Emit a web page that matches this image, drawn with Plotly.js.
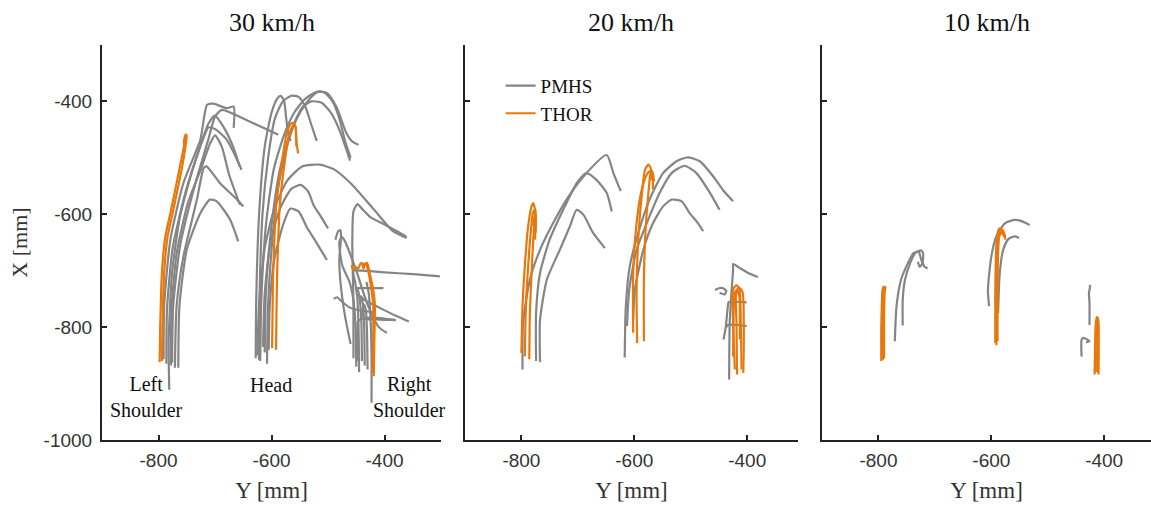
<!DOCTYPE html>
<html><head><meta charset="utf-8">
<script src="https://cdn.plot.ly/plotly-3.0.1.min.js"></script>
<style>html,body{margin:0;padding:0;background:#fff}#chart{width:1151px;height:506px}</style>
</head><body><div id="chart"></div>
<script>
// Panel titles and tick labels
const panelTitles = ["30 km/h", "20 km/h", "10 km/h"];
const xTickVals = [-800, -600, -400];
const xTickText = ["-800", "-600", "-400"];
const yTickVals = [-1000, -800, -600, -400];
const yTickText = ["-1000", "-800", "-600", "-400"];
const regionLabels = ["Left<br>Shoulder", "Head", "Right<br>Shoulder"];
const regionLabelY = [-822, -601, -355];
const regionLabelX = [-923, -902, -923];

// ---- 30 km/h : PMHS (Y lateral, X fore-aft) ----
const pmhs30Y = [
 [-781,-782,-776,-762,-738,-717,-712,-700,-679,-653],
 [-791,-790,-779,-756,-726,-714,-703,-679,-667,-667],
 [-776,-774,-762,-738,-712,-700,-688,-638,-588],
 [-771,-768,-756,-732,-720,-715,-691,-661,-650],
 [-765,-763,-750,-726,-709,-697,-673,-659],
 [-786,-785,-775,-752,-728,-712,-700,-685,-668,-656],
 [-778,-777,-768,-748,-725,-709,-700,-688,-675,-656],
 [-628,-627,-622,-612,-600,-590,-584,-578,-574,-570,-566],
 [-620,-618,-610,-596,-578,-560,-540,-520,-502,-485,-468,-458,-446],
 [-612,-610,-600,-585,-565,-545,-530,-512,-495,-478,-466,-461],
 [-625,-622,-612,-595,-572,-545,-515,-490,-460,-420,-385,-361],
 [-615,-612,-602,-585,-565,-548,-535,-525,-512,-500],
 [-605,-603,-595,-580,-567,-552,-538,-520,-502],
 [-622,-621,-616,-606,-594,-580,-565,-552,-540,-530,-520],
 [-608,-606,-598,-586,-570,-555,-540,-525,-515,-505,-492,-480,-470,-460],
 [-455,-455,-457,-455,-448,-440,-425,-400,-378,-361],
 [-423,-423,-425,-428,-432],
 [-445,-446,-448,-452,-455,-440,-400,-350,-302],
 [-440,-441,-444,-447,-450,-440,-420,-402],
 [-435,-436,-438,-442,-437,-410,-380,-357],
 [-430,-431,-433,-436,-440,-420,-400,-381],
 [-450,-451,-453,-457,-462,-475,-480,-476,-470,-450,-430,-410,-396],
 [-490,-484,-475,-462,-445,-430,-418],
 [-448,-448,-447,-440,-420,-400,-380],
 [-487,-482,-478,-477,-480,-478,-470,-460]
];
const pmhs30X = [
 [-911,-822,-704,-604,-515,-456,-446,-449,-468,-521],
 [-857,-763,-645,-545,-468,-406,-404,-412,-409,-447],
 [-863,-763,-657,-557,-468,-427,-415,-436,-459],
 [-872,-763,-675,-574,-518,-515,-545,-574,-586],
 [-872,-763,-663,-598,-574,-577,-610,-648],
 [-865,-770,-660,-560,-485,-440,-425,-445,-480,-516],
 [-868,-770,-670,-580,-520,-475,-460,-480,-530,-583],
 [-855,-750,-600,-480,-420,-395,-390,-398,-430,-460,-470],
 [-860,-750,-620,-520,-460,-420,-395,-383,-385,-410,-455,-470,-477],
 [-845,-740,-620,-520,-450,-410,-400,-402,-420,-455,-490,-505],
 [-850,-760,-660,-590,-540,-515,-512,-520,-545,-590,-630,-642],
 [-835,-740,-650,-590,-555,-548,-560,-585,-605,-625],
 [-840,-760,-680,-620,-590,-595,-622,-651,-681],
 [-858,-740,-600,-500,-430,-400,-390,-392,-410,-440,-470],
 [-865,-760,-640,-540,-470,-430,-405,-388,-382,-385,-400,-430,-470,-500],
 [-855,-760,-650,-595,-582,-590,-605,-618,-630,-640],
 [-934,-850,-780,-740,-720],
 [-880,-800,-750,-720,-700,-700,-703,-706,-710],
 [-860,-790,-750,-735,-731,-731,-731,-731],
 [-868,-800,-760,-745,-751,-765,-780,-790],
 [-875,-810,-770,-760,-785,-786,-787,-787],
 [-870,-810,-770,-740,-720,-690,-650,-640,-648,-700,-760,-800,-810],
 [-750,-747,-755,-765,-770,-772,-774],
 [-860,-800,-790,-785,-783,-785,-788],
 [-645,-630,-628,-640,-680,-720,-780,-830]
];
// ---- 30 km/h : THOR ----
const thor30Y = [
 [-798,-797,-794,-788,-779,-770,-762,-756,-753,-752,-755,-754,-750],
 [-794,-793,-790,-784,-775,-766,-758,-753,-750],
 [-599,-598,-597,-591,-582,-573,-566,-562,-558,-556,-553],
 [-592,-591,-590,-585,-577,-569,-563,-558,-556],
 [-419,-418,-417,-419,-425,-431,-435,-437,-440,-443,-447,-452,-456,-458],
 [-421,-420,-420,-423,-428,-433,-440]
];
const thor30X = [
 [-862,-800,-704,-640,-598,-555,-515,-485,-468,-458,-470,-480,-458],
 [-860,-800,-704,-640,-598,-555,-515,-485,-462],
 [-837,-760,-704,-574,-509,-456,-440,-438,-444,-470,-492],
 [-840,-760,-704,-580,-510,-460,-445,-443,-480],
 [-887,-820,-763,-740,-710,-686,-688,-697,-686,-688,-697,-693,-698,-690],
 [-880,-820,-760,-735,-705,-688,-690]
];

// ---- 20 km/h ----
const pmhs20Y = [
 [-798,-797,-785,-767,-744,-720,-690,-649,-637,-624],
 [-774,-774,-767,-750,-726,-702,-685,-667,-649,-640],
 [-767,-767,-755,-732,-714,-702,-690,-673,-652],
 [-617,-615,-608,-593,-573,-549,-525,-505,-484,-460,-443,-425],
 [-613,-609,-596,-578,-555,-534,-511,-490,-466,-449],
 [-602,-599,-584,-567,-549,-534,-516,-502,-487,-478],
 [-432,-431,-428,-425,-425,-415,-400,-381],
 [-457,-450,-443,-437,-440,-449],
 [-442,-438,-434,-433,-430,-420,-401],
 [-436,-434,-420,-401]
];
const pmhs20X = [
 [-875,-792,-716,-663,-616,-574,-533,-495,-527,-559],
 [-860,-775,-704,-645,-592,-545,-527,-539,-562,-595],
 [-862,-787,-716,-663,-621,-592,-601,-633,-660],
 [-854,-763,-692,-633,-574,-527,-506,-499,-506,-533,-557,-577],
 [-798,-734,-663,-616,-562,-527,-514,-527,-562,-592],
 [-787,-734,-663,-616,-586,-574,-577,-598,-616,-630],
 [-893,-793,-740,-698,-688,-694,-703,-711],
 [-734,-731,-731,-736,-742,-739],
 [-822,-800,-760,-756,-755,-755,-756],
 [-800,-796,-796,-798]
];
const thor20Y = [
 [-800,-798,-794,-788,-782,-779,-776,-779],
 [-794,-792,-788,-783,-779,-775,-776],
 [-786,-785,-782,-779,-776,-774,-775],
 [-595,-596,-593,-587,-581,-575,-571,-570],
 [-602,-602,-596,-587,-578,-573,-568,-567],
 [-583,-583,-580,-575,-571,-568,-565],
 [-422,-425,-426,-424,-419,-414,-412,-410],
 [-418,-419,-420,-417,-413,-408,-406,-407],
 [-425,-424,-422,-418,-414,-413]
];
const thor20X = [
 [-846,-763,-692,-621,-586,-580,-592,-621],
 [-852,-763,-692,-627,-595,-592,-645],
 [-857,-775,-704,-645,-610,-601,-633],
 [-828,-734,-645,-568,-521,-512,-518,-539],
 [-810,-704,-616,-557,-530,-524,-533,-556],
 [-825,-716,-627,-562,-527,-524,-542],
 [-875,-792,-745,-731,-726,-731,-763,-875],
 [-884,-792,-745,-732,-731,-739,-822,-881],
 [-852,-775,-739,-734,-745,-822]
];

// ---- 10 km/h ----
const pmhs10Y = [
 [-771,-768,-760,-748,-738,-729,-724,-718,-713],
 [-757,-757,-753,-744,-735,-725,-721,-722,-727,-730],
 [-604,-606,-600,-591,-576,-558,-544,-532],
 [-588,-585,-579,-570,-558,-551],
 [-426,-426,-427,-425,-426],
 [-440,-440,-437,-426,-432]
];
const pmhs10X = [
 [-825,-763,-716,-687,-669,-666,-681,-693,-696],
 [-797,-751,-716,-687,-669,-664,-669,-687,-693,-684],
 [-763,-734,-675,-639,-616,-610,-613,-619],
 [-775,-704,-663,-644,-639,-642],
 [-796,-757,-740,-728,-725],
 [-852,-822,-819,-825,-827]
];
const thor10Y = [
 [-795,-795,-794,-793,-791,-790],
 [-792,-792,-791,-790,-789],
 [-790,-790,-789,-788,-787],
 [-593,-593,-592,-590,-586,-580,-576],
 [-591,-591,-590,-588,-584,-578,-575],
 [-589,-589,-588,-586,-582,-577],
 [-417,-416,-415,-413,-411,-410,-410],
 [-415,-414,-413,-411,-410,-411]
];
const thor10X = [
 [-860,-800,-760,-735,-728,-733],
 [-858,-790,-750,-730,-735],
 [-855,-780,-740,-728,-732],
 [-828,-750,-680,-640,-625,-628,-640],
 [-832,-750,-680,-640,-628,-632,-645],
 [-825,-740,-670,-640,-632,-640],
 [-884,-830,-795,-782,-785,-810,-884],
 [-880,-820,-790,-784,-800,-880]
];

const GRAY = "#858585", ORANGE = "#E8780C";
const traces = [];
let pmhsLeg = false, thorLeg = false;
function addSet(Ys, Xs, axis, color, name) {
  Ys.forEach((ys, i) => {
    let show = false;
    if (axis === "x2" && name === "PMHS" && !pmhsLeg) { show = true; pmhsLeg = true; }
    if (axis === "x2" && name === "THOR" && !thorLeg) { show = true; thorLeg = true; }
    traces.push({
      type: "scatter", mode: "lines", x: ys, y: Xs[i],
      xaxis: axis, yaxis: axis.replace("x", "y"),
      line: {color: color, width: 2.2, shape: "spline", smoothing: 0.6},
      name: name, showlegend: show, legendgroup: name, hoverinfo: "skip"
    });
  });
}
addSet(pmhs30Y, pmhs30X, "x", GRAY, "PMHS");
addSet(thor30Y, thor30X, "x", ORANGE, "THOR");
addSet(pmhs20Y, pmhs20X, "x2", GRAY, "PMHS");
addSet(thor20Y, thor20X, "x2", ORANGE, "THOR");
addSet(pmhs10Y, pmhs10X, "x3", GRAY, "PMHS");
addSet(thor10Y, thor10X, "x3", ORANGE, "THOR");

const tickFont = {family: "Liberation Sans, Arial, sans-serif", size: 19, color: "#333"};
const serif = "Liberation Serif, Times New Roman, serif";
function xax(dom, rng) {
  return {domain: dom, range: rng, showline: true, linecolor: "#222", linewidth: 2,
    ticks: "inside", ticklen: 5, tickwidth: 2, tickcolor: "#222",
    tickvals: xTickVals, ticktext: xTickText, tickfont: tickFont, ticklabelstandoff: 2,
    showgrid: false, zeroline: false, fixedrange: true,
    title: {text: "Y [mm]", font: {family: serif, size: 23, color: "#333"}, standoff: 12}};
}
function yax(anchor, labels) {
  return {domain: [0, 1], range: [-1000, -300], anchor: anchor, showline: true, linecolor: "#222", linewidth: 2,
    ticks: "inside", ticklen: 5, tickwidth: 2, tickcolor: "#222",
    tickvals: yTickVals, ticktext: yTickText, tickfont: tickFont, showticklabels: labels,
    ticklabelstandoff: 4,
    showgrid: false, zeroline: false, fixedrange: true,
    title: labels ? {text: "X [mm]", font: {family: serif, size: 22, color: "#333"}, standoff: 10} : {text: ""}};
}
const annotations = panelTitles.map((t, i) => ({
  text: t, xref: ["x domain", "x2 domain", "x3 domain"][i], yref: "paper",
  x: 0.5, y: 1, yshift: 23, xanchor: "center", yanchor: "middle", showarrow: false,
  font: {family: serif, size: 26, color: "#111"}
}));
regionLabels.forEach((t, i) => annotations.push({
  text: t, x: regionLabelY[i], y: regionLabelX[i], xref: "x", yref: "y", showarrow: false,
  font: {family: serif, size: 20, color: "#111"}, xanchor: "center", yanchor: "middle"
}));

const layout = {
  width: 1151, height: 506, paper_bgcolor: "#fff", plot_bgcolor: "#fff",
  margin: {l: 102, r: 0, t: 45, b: 66},
  showlegend: true,
  legend: {x: 0.38, y: 0.945, xanchor: "left", yanchor: "top", bgcolor: "rgba(0,0,0,0)",
    font: {family: serif, size: 19, color: "#111"}, tracegroupgap: 0, itemwidth: 30},
  xaxis: xax([0, 0.3232], [-900, -300]),
  xaxis2: xax([0.346, 0.6635], [-900, -310]),
  xaxis3: xax([0.6864, 1], [-900, -317]),
  yaxis: yax("x", true),
  yaxis2: yax("x2", false),
  yaxis3: yax("x3", false),
  annotations: annotations
};
Plotly.newPlot("chart", traces, layout, {displayModeBar: false, staticPlot: true});
</script></body></html>
